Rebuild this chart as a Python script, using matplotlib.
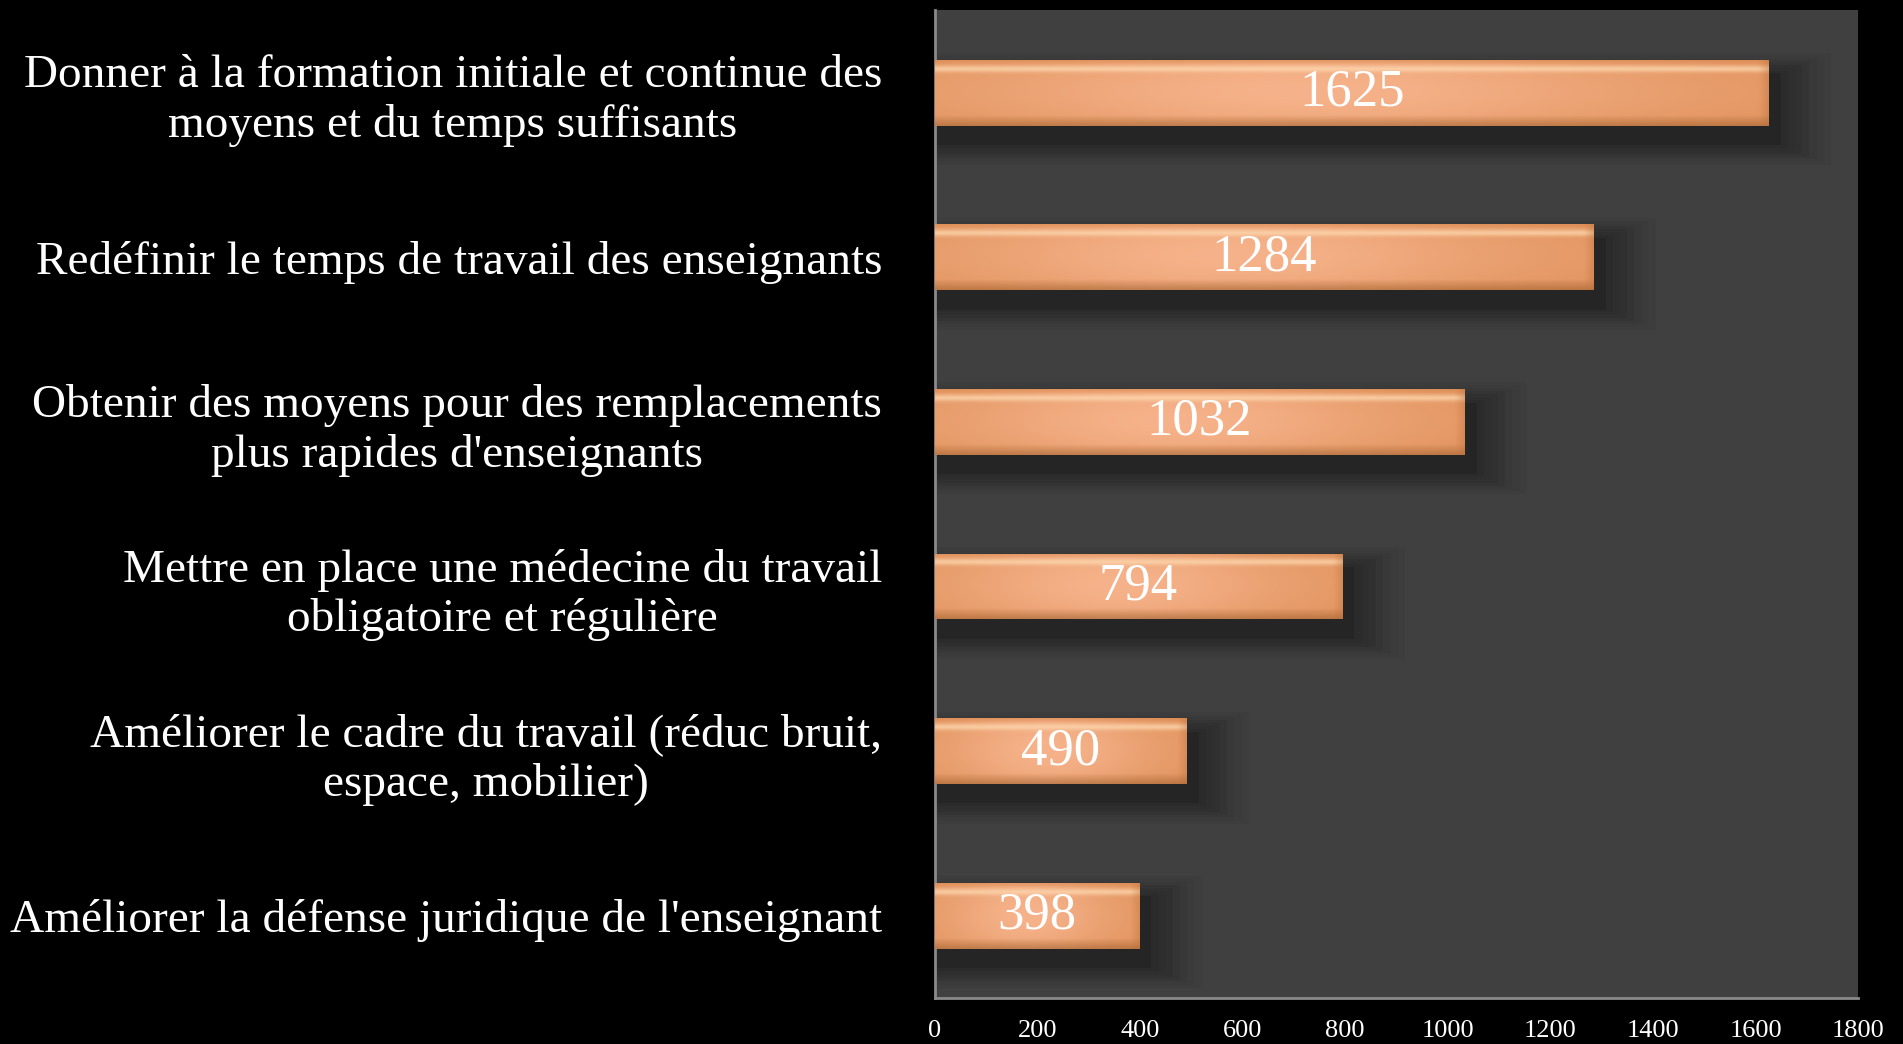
import numpy as np
import matplotlib
matplotlib.use("Agg")
import matplotlib.pyplot as plt
from matplotlib.colors import to_rgb

categories = [
    "Donner à la formation initiale et continue des\nmoyens et du temps suffisants",
    "Redéfinir le temps de travail des enseignants",
    "Obtenir des moyens pour des remplacements\nplus rapides d'enseignants",
    "Mettre en place une médecine du travail\nobligatoire et régulière",
    "Améliorer le cadre du travail (réduc bruit,\nespace, mobilier)",
    "Améliorer la défense juridique de l'enseignant",
]
values = [1625, 1284, 1032, 794, 490, 398]
xticks = [0, 200, 400, 600, 800, 1000, 1200, 1400, 1600, 1800]

FONT = ["Liberation Serif", "DejaVu Serif"]

fig = plt.figure(figsize=(19.03, 10.44), dpi=100, facecolor="black")
ax = fig.add_axes([0.4913, 0.044, 0.4851, 0.946])
ax.set_facecolor("#404040")

y = np.arange(len(values))
h = 0.40

# soft shadow (layers)
for k, a in enumerate([0.08, 0.07, 0.06, 0.05, 0.05, 0.04, 0.04, 0.03]):
    grow = 0.035 * (k + 1)
    ax.barh(y + 0.10, np.array(values) + 20 + 14 * (k + 1), height=h + grow,
            left=-10, color="black", alpha=a, zorder=1, linewidth=0)

bars = ax.barh(y, values, height=h, color="#e89660", zorder=2, linewidth=0)

# gradient image for the bevelled bars
ny, nx = 80, 300
vy = np.linspace(0, 1, ny)[:, None]   # 0 = top of image
hx = np.linspace(0, 1, nx)[None, :]
base_lo = np.array(to_rgb("#d8874c"))
base_hi = np.array(to_rgb("#f6b28a"))
hl = 0.35 + 0.65 * np.exp(-((hx - 0.45) / 0.40) ** 2)
vl = 0.8 + 0.2 * np.sin(np.pi * np.clip((vy - 0.05) / 0.85, 0, 1))
t = np.clip(hl * vl, 0, 1)
img = base_lo[None, None, :] * (1 - t[..., None]) + base_hi[None, None, :] * t[..., None]
# top highlight strip
top = np.exp(-((vy - 0.13) / 0.05) ** 2)
img = img * (1 - 0.7 * top[..., None]) + np.array(to_rgb("#ffdcb4")) * 0.7 * top[..., None]
# top rim
rim = np.clip((0.06 - vy) / 0.06, 0, 1)
img = img * (1 - 0.5 * rim[..., None]) + np.array(to_rgb("#d8864a")) * 0.5 * rim[..., None]
# bottom bevel darker
bot = np.clip((vy - 0.84) / 0.16, 0, 1)
img = img * (1 - 0.6 * bot[..., None]) + np.array(to_rgb("#a3622f")) * 0.6 * bot[..., None]

for b in bars:
    x0, y0 = b.get_x(), b.get_y()
    w, hh = b.get_width(), b.get_height()
    frac = min(0.08, 18.0 / max(w, 1))
    end = np.clip((hx - (1 - frac)) / frac, 0, 1)
    img_b = img * (1 - 0.35 * end[..., None]) + np.array(to_rgb("#b86e38")) * 0.35 * end[..., None]
    im = ax.imshow(img_b, extent=[x0, x0 + w, y0 + hh, y0], aspect="auto",
                   zorder=3, interpolation="bilinear")
    im.set_clip_path(b)

for yi, v in zip(y, values):
    ax.text(v / 2, yi, str(v), ha="center", va="center", color="white",
            fontsize=38, family=FONT, zorder=5)

ax.set_xlim(0, 1800)
ax.set_ylim(len(values) - 0.5, -0.5)
ax.set_xticks(xticks)
ax.set_xticklabels([str(t) for t in xticks], family=FONT, fontsize=19, color="white")
ax.set_yticks(y)
ax.set_yticklabels(categories, family=FONT, fontsize=34, color="white",
                   multialignment="center", linespacing=1.2)
ax.tick_params(axis="both", length=0)
ax.tick_params(axis="x", pad=16)
ax.tick_params(axis="y", pad=38)
for s in ["top", "right"]:
    ax.spines[s].set_visible(False)
for s in ["left", "bottom"]:
    ax.spines[s].set_color("#8a8a8a")
    ax.spines[s].set_linewidth(2)

fig.savefig("out.png", dpi=100, facecolor="black")
